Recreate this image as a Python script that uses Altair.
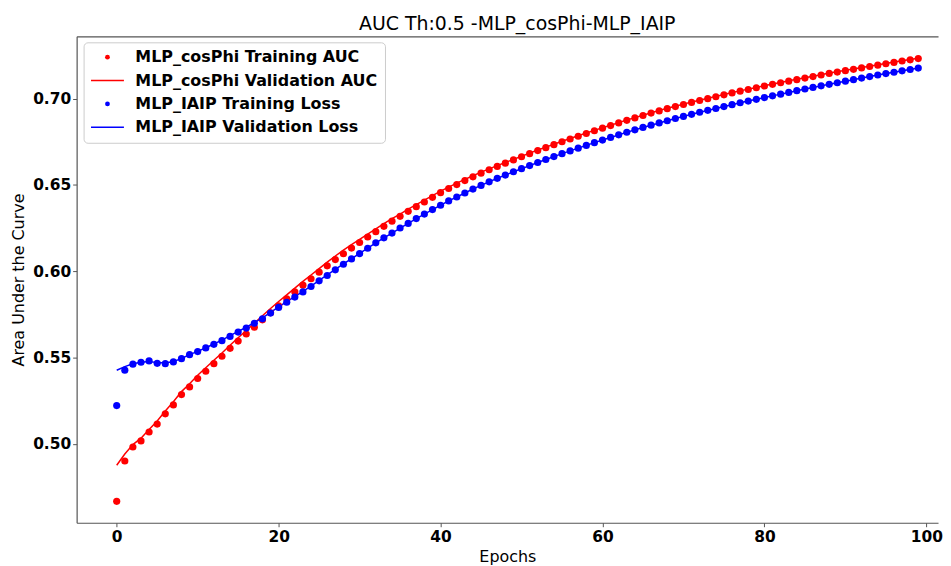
import altair as alt
import pandas as pd

epochs = list(range(100))

red_train = [0.4666, 0.4900, 0.4981, 0.5016, 0.5068, 0.5114, 0.5173, 0.5225, 0.5285, 0.5329,
             0.5378, 0.5420, 0.5464, 0.5507, 0.5553, 0.5595, 0.5636, 0.5675, 0.5718, 0.5759,
             0.5799, 0.5840, 0.5880, 0.5919, 0.5956, 0.5994, 0.6031, 0.6067, 0.6101, 0.6134,
             0.6166, 0.6198, 0.6229, 0.6260, 0.6290, 0.6318, 0.6347, 0.6374, 0.6401, 0.6428,
             0.6455, 0.6479, 0.6502, 0.6525, 0.6547, 0.6568, 0.6588, 0.6607, 0.6626, 0.6645,
             0.6663, 0.6681, 0.6699, 0.6716, 0.6733, 0.6750, 0.6766, 0.6782, 0.6798, 0.6814,
             0.6829, 0.6844, 0.6859, 0.6874, 0.6888, 0.6902, 0.6916, 0.6929, 0.6942, 0.6954,
             0.6966, 0.6978, 0.6989, 0.7000, 0.7011, 0.7022, 0.7033, 0.7043, 0.7053, 0.7063,
             0.7073, 0.7083, 0.7092, 0.7101, 0.7110, 0.7119, 0.7128, 0.7137, 0.7146, 0.7154,
             0.7162, 0.7170, 0.7178, 0.7186, 0.7194, 0.7202, 0.7210, 0.7218, 0.7225, 0.7232]

red_val = [0.4875, 0.4940, 0.4995, 0.5032, 0.5083, 0.5132, 0.5190, 0.5243, 0.5302, 0.5348,
           0.5397, 0.5440, 0.5484, 0.5526, 0.5571, 0.5614, 0.5656, 0.5698, 0.5742, 0.5784,
           0.5824, 0.5863, 0.5902, 0.5941, 0.5978, 0.6015, 0.6052, 0.6088, 0.6122, 0.6154,
           0.6184, 0.6215, 0.6245, 0.6275, 0.6304, 0.6331, 0.6359, 0.6386, 0.6412, 0.6438,
           0.6464, 0.6487, 0.6510, 0.6532, 0.6553, 0.6574, 0.6593, 0.6612, 0.6630, 0.6648,
           0.6666, 0.6684, 0.6702, 0.6719, 0.6736, 0.6753, 0.6769, 0.6785, 0.6801, 0.6816,
           0.6831, 0.6846, 0.6861, 0.6876, 0.6890, 0.6904, 0.6918, 0.6931, 0.6944, 0.6956,
           0.6968, 0.6980, 0.6991, 0.7002, 0.7013, 0.7024, 0.7035, 0.7045, 0.7055, 0.7065,
           0.7075, 0.7085, 0.7094, 0.7103, 0.7112, 0.7121, 0.7130, 0.7139, 0.7148, 0.7156,
           0.7164, 0.7172, 0.7180, 0.7188, 0.7196, 0.7204, 0.7212, 0.7220, 0.7227, 0.7234]

blue_train = [0.5221, 0.5426, 0.5461, 0.5472, 0.5480, 0.5466, 0.5464, 0.5474, 0.5493, 0.5516,
              0.5534, 0.5555, 0.5576, 0.5597, 0.5622, 0.5647, 0.5670, 0.5698, 0.5724, 0.5757,
              0.5790, 0.5820, 0.5850, 0.5880, 0.5911, 0.5944, 0.5975, 0.6008, 0.6040, 0.6071,
              0.6102, 0.6133, 0.6164, 0.6193, 0.6221, 0.6250, 0.6277, 0.6305, 0.6331, 0.6357,
              0.6382, 0.6407, 0.6430, 0.6453, 0.6476, 0.6497, 0.6518, 0.6538, 0.6557, 0.6576,
              0.6594, 0.6612, 0.6630, 0.6647, 0.6664, 0.6681, 0.6697, 0.6713, 0.6729, 0.6745,
              0.6760, 0.6775, 0.6790, 0.6805, 0.6819, 0.6833, 0.6846, 0.6859, 0.6872, 0.6885,
              0.6897, 0.6909, 0.6921, 0.6932, 0.6943, 0.6954, 0.6965, 0.6976, 0.6986, 0.6996,
              0.7006, 0.7016, 0.7026, 0.7036, 0.7046, 0.7056, 0.7065, 0.7074, 0.7083, 0.7092,
              0.7101, 0.7110, 0.7119, 0.7128, 0.7137, 0.7145, 0.7153, 0.7161, 0.7169, 0.7177]

blue_val = [0.5426, 0.5447, 0.5463, 0.5472, 0.5477, 0.5470, 0.5468, 0.5476, 0.5494, 0.5516,
            0.5535, 0.5556, 0.5578, 0.5600, 0.5626, 0.5651, 0.5675, 0.5702, 0.5729, 0.5761,
            0.5793, 0.5823, 0.5853, 0.5883, 0.5914, 0.5946, 0.5978, 0.6011, 0.6042, 0.6072,
            0.6103, 0.6133, 0.6164, 0.6193, 0.6221, 0.6250, 0.6277, 0.6305, 0.6331, 0.6357,
            0.6382, 0.6407, 0.6430, 0.6453, 0.6476, 0.6497, 0.6518, 0.6538, 0.6557, 0.6576,
            0.6594, 0.6612, 0.6630, 0.6647, 0.6664, 0.6681, 0.6697, 0.6713, 0.6729, 0.6745,
            0.6760, 0.6775, 0.6790, 0.6805, 0.6819, 0.6833, 0.6846, 0.6859, 0.6872, 0.6885,
            0.6897, 0.6909, 0.6921, 0.6932, 0.6943, 0.6954, 0.6965, 0.6976, 0.6986, 0.6996,
            0.7006, 0.7016, 0.7026, 0.7036, 0.7046, 0.7056, 0.7065, 0.7074, 0.7083, 0.7092,
            0.7101, 0.7110, 0.7119, 0.7128, 0.7137, 0.7145, 0.7153, 0.7161, 0.7169, 0.7177]

series_names = ["MLP_cosPhi Training AUC", "MLP_cosPhi Validation AUC",
                "MLP_IAIP Training Loss", "MLP_IAIP Validation Loss"]
series_kinds = ["train", "val", "train", "val"]
series_colors = ["#ff0000", "#ff0000", "#0000ff", "#0000ff"]
x_ticks = [0, 20, 40, 60, 80, 100]
y_ticks = [0.50, 0.55, 0.60, 0.65, 0.70]

rows = []
for name, kind, vals in zip(series_names, series_kinds,
                            [red_train, red_val, blue_train, blue_val]):
    for e, v in zip(epochs, vals):
        rows.append({"epoch": e, "auc": v, "series": name, "kind": kind})
df = pd.DataFrame(rows)

FONT = "DejaVu Sans"
LINE_PATH = "M-6.9,-0.32L6.9,-0.32L6.9,0.32L-6.9,0.32Z"
shapes = ["circle", LINE_PATH, "circle", LINE_PATH]

# plot area is cut at the right edge, as in the reference (no right spine visible)
x_scale = alt.Scale(domain=[-4.95, 101.44], nice=False, zero=False)
y_scale = alt.Scale(domain=[0.4542, 0.7361], nice=False, zero=False)

legend = alt.Legend(
    title=None, orient="none", legendX=7, legendY=6,
    fillColor="white", strokeColor="#cccccc", cornerRadius=4, padding=7,
    labelFont=FONT, labelFontSize=16, labelFontWeight="bold", labelColor="black",
    labelLimit=500, symbolSize=23, clipHeight=16, rowPadding=7.5,
    symbolOffset=9, labelOffset=20, symbolStrokeWidth=0,
)

color = alt.Color("series:N", scale=alt.Scale(domain=series_names, range=series_colors),
                  legend=legend)
shape = alt.Shape("series:N", scale=alt.Scale(domain=series_names, range=shapes),
                  legend=legend)

y_axis = alt.Axis(values=y_ticks, format=".2f", title="Area Under the Curve")
y_enc = alt.Y("auc:Q", scale=y_scale, axis=y_axis)

base = alt.Chart(df)

lines = base.transform_filter(alt.datum.kind == "val").mark_line(
    strokeWidth=1.5
).encode(
    x=alt.X("epoch:Q", scale=x_scale,
            axis=alt.Axis(values=x_ticks, title="Epochs", format="d", orient="bottom")),
    y=y_enc, color=color,
)

points = base.transform_filter(alt.datum.kind == "train").mark_point(
    filled=True, size=52, opacity=1, strokeWidth=0
).encode(
    x=alt.X("epoch:Q", scale=x_scale, axis=None),
    y=y_enc, color=color, shape=shape,
)

top_spine = base.transform_filter(alt.datum.kind == "val").mark_point(opacity=0).encode(
    x=alt.X("epoch:Q", scale=x_scale,
            axis=alt.Axis(orient="top", labels=False, ticks=False, title=None, domain=True)),
    y=y_enc,
)

chart = alt.layer(lines, points, top_spine).resolve_axis(x="independent").properties(
    width=866, height=489,
    padding={"left": 2, "top": 6, "right": 0, "bottom": 0},
    title=alt.TitleParams("AUC Th:0.5 -MLP_cosPhi-MLP_IAIP", font=FONT, fontSize=19,
                          fontWeight="normal", color="black", anchor="middle",
                          dx=10, offset=2),
).configure_view(stroke=None).configure_axis(
    grid=False, labelFont=FONT, labelFontSize=15.5, labelFontWeight="bold",
    labelColor="black", titleFont=FONT, titleFontSize=16, titleFontWeight="normal",
    titleColor="black", domainColor="#555555", tickColor="#555555", tickSize=4,
    domainWidth=1.2,
).configure_axisX(labelPadding=3, titlePadding=3).configure_axisY(
    labelPadding=2, titlePadding=6)

chart.save("out.html", embed_options={"renderer": "svg", "actions": False})
